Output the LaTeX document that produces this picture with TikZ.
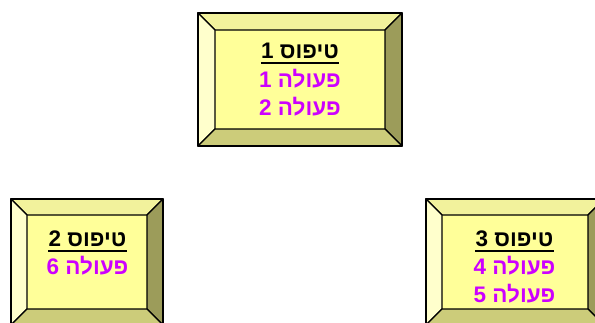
\documentclass[tikz,border=0pt]{standalone}
\usepackage{fontspec}
\newfontfamily\hebfont[Script=Hebrew]{Liberation Sans}
\TeXXeTstate=1
\definecolor{fcenter}{HTML}{FFFF99}
\definecolor{ftop}{HTML}{F2F29C}
\definecolor{fleft}{HTML}{FFFFCC}
\definecolor{fbottom}{HTML}{CCCC7A}
\definecolor{fright}{HTML}{9C9C5A}
\definecolor{actcol}{HTML}{CC00FF}
\tikzset{
  face/.style={draw=black, line width=1.2pt, line join=round},
  ttl/.style={font=\hebfont\bfseries\fontsize{22.5}{24}\selectfont, text=black, inner sep=0pt, anchor=base},
  act/.style={font=\hebfont\bfseries\fontsize{22.5}{24}\selectfont, text=actcol, inner sep=0pt, anchor=base},
  uline/.style={draw=black, line width=2pt}
}
% \bevelbox{x1}{y1}{x2}{y2}{bevel}
\newcommand\bevelbox[5]{%
  \fill[fcenter] (#1+#5,#2+#5) rectangle (#3-#5,#4-#5);
  \filldraw[face, fill=ftop] (#1,#2) -- (#3,#2) -- (#3-#5,#2+#5) -- (#1+#5,#2+#5) -- cycle;
  \filldraw[face, fill=fleft] (#1,#2) -- (#1+#5,#2+#5) -- (#1+#5,#4-#5) -- (#1,#4) -- cycle;
  \filldraw[face, fill=fright] (#3,#2) -- (#3,#4) -- (#3-#5,#4-#5) -- (#3-#5,#2+#5) -- cycle;
  \filldraw[face, fill=fbottom] (#1,#4) -- (#1+#5,#4-#5) -- (#3-#5,#4-#5) -- (#3,#4) -- cycle;
  \draw[face] (#1,#2) rectangle (#3,#4);
}
\begin{document}
\begin{tikzpicture}[x=1pt,y=-1pt]
\useasboundingbox (0,0) rectangle (595,322);
\fill[white] (0,0) rectangle (595,322);
% boxes
\bevelbox{198}{13}{402}{146}{17}
\bevelbox{11}{199}{163}{325}{16}
\bevelbox{426}{199}{604}{325}{16}
% box 1 text
\node[ttl] (t1) at (300,58) {\beginR טיפוס 1\endR};
\draw[uline] ([yshift=-4.5pt]t1.base west) -- ([yshift=-4.5pt]t1.base east);
\node[act] (a1) at (300,87) {\beginR פעולה 1\endR};
\node[act] (a2) at (300,115) {\beginR פעולה 2\endR};
% box 2 text
\node[ttl] (t2) at (87.5,246) {\beginR טיפוס 2\endR};
\draw[uline] ([yshift=-4.5pt]t2.base west) -- ([yshift=-4.5pt]t2.base east);
\node[act] (a6) at (87.5,274) {\beginR פעולה 6\endR};
% box 3 text
\node[ttl] (t3) at (514.5,246) {\beginR טיפוס 3\endR};
\draw[uline] ([yshift=-4.5pt]t3.base west) -- ([yshift=-4.5pt]t3.base east);
\node[act] (a4) at (514.5,274) {\beginR פעולה 4\endR};
\node[act] (a5) at (514.5,302) {\beginR פעולה 5\endR};
\end{tikzpicture}
\end{document}
